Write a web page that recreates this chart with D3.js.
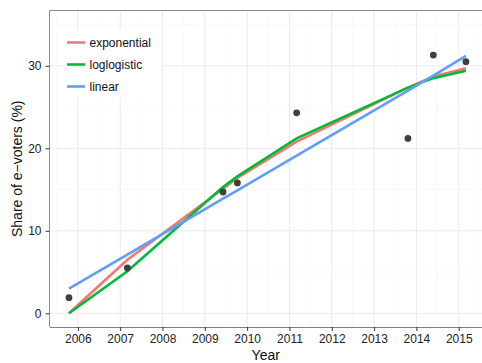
<!DOCTYPE html>
<html><head><meta charset="utf-8">
<script src="https://cdn.jsdelivr.net/npm/d3@7"></script>
<style>body{margin:0;background:#fff}svg{display:block}text{font-family:"Liberation Sans",Arial,sans-serif}</style>
</head><body><svg id="c" width="482" height="363"></svg>
<script>
const years = [2005.79, 2007.17, 2009.43, 2009.77, 2011.17, 2013.8, 2014.4, 2015.17];
const observed = [1.9, 5.5, 14.7, 15.8, 24.3, 21.2, 31.3, 30.5];
const exponential = [0, 6.5, 15.1, 16.4, 20.8, 27.35, 28.7, 29.7];
const loglogistic = [0, 5.1, 15.3, 16.6, 21.2, 27.35, 28.5, 29.4];
const linear = [3.0, 7.1, 13.9, 14.9, 19.1, 27.0, 28.8, 31.2];
const seriesNames = ["exponential", "loglogistic", "linear"];
const seriesColors = ["#F8766D", "#00BA38", "#619CFF"];
const xTicks = [2006, 2007, 2008, 2009, 2010, 2011, 2012, 2013, 2014, 2015];
const yTicks = [0, 10, 20, 30];

const svg = d3.select("#c");
const L = 49.5, R = 482, T = 10.5, B = 327;
const x = d3.scaleLinear().domain([2005.33, 2015.55]).range([L, R]);
const y = d3.scaleLinear().domain([-1.66, 36.7]).range([B, T]);

// minor grid
const xMinor = xTicks.map(v => v - 0.5).concat([2015.5]);
const yMinor = [-5, 5, 15, 25, 35];
svg.append("g").selectAll("line").data(xMinor.filter(v => x(v) > L)).join("line")
  .attr("x1", d => x(d)).attr("x2", d => x(d)).attr("y1", T).attr("y2", B)
  .attr("stroke", "#f7f7f7").attr("stroke-width", 0.8);
svg.append("g").selectAll("line").data(yMinor.filter(v => y(v) < B && y(v) > T)).join("line")
  .attr("x1", L).attr("x2", R).attr("y1", d => y(d)).attr("y2", d => y(d))
  .attr("stroke", "#f7f7f7").attr("stroke-width", 0.8);
// major grid
svg.append("g").selectAll("line").data(xTicks).join("line")
  .attr("x1", d => x(d)).attr("x2", d => x(d)).attr("y1", T).attr("y2", B)
  .attr("stroke", "#ebebeb").attr("stroke-width", 1);
svg.append("g").selectAll("line").data(yTicks).join("line")
  .attr("x1", L).attr("x2", R).attr("y1", d => y(d)).attr("y2", d => y(d))
  .attr("stroke", "#ebebeb").attr("stroke-width", 1);

// panel border (top and left)
svg.append("line").attr("x1", L).attr("x2", R).attr("y1", T).attr("y2", T).attr("stroke", "#8c8c8c").attr("stroke-width", 1);
svg.append("line").attr("x1", L).attr("x2", L).attr("y1", T).attr("y2", B).attr("stroke", "#8c8c8c").attr("stroke-width", 1);

// lines
const allSeries = [exponential, loglogistic, linear];
const line = d3.line().x((d, i) => x(years[i])).y(d => y(d));
allSeries.forEach((s, k) => {
  svg.append("path").datum(s).attr("d", line).attr("fill", "none")
    .attr("stroke", seriesColors[k]).attr("stroke-width", 2.6);
});

// points
svg.append("g").selectAll("circle").data(observed).join("circle")
  .attr("cx", (d, i) => x(years[i])).attr("cy", d => y(d)).attr("r", 3.4).attr("fill", "#3f3f3f");

// axes
const xAxis = svg.append("g").attr("transform", `translate(0,${B})`)
  .call(d3.axisBottom(x).tickValues(xTicks).tickFormat(d3.format("d")).tickSize(4).tickSizeOuter(0));
xAxis.select(".domain").attr("stroke", "#7f7f7f").attr("stroke-width", 1.2);
xAxis.selectAll(".tick line").attr("stroke", "#333");
xAxis.selectAll("text").attr("font-size", 12).attr("fill", "#222").attr("dy", "0.71em").attr("y", 7);
const yAxis = svg.append("g").attr("transform", `translate(${L},0)`)
  .call(d3.axisLeft(y).tickValues(yTicks).tickSize(4).tickSizeOuter(0));
yAxis.select(".domain").remove();
yAxis.selectAll(".tick line").attr("stroke", "#333");
yAxis.selectAll("text").attr("font-size", 12).attr("fill", "#222").attr("x", -8);

// axis titles
svg.append("text").attr("x", (L + R) / 2).attr("y", 360).attr("text-anchor", "middle")
  .attr("font-size", 14).attr("fill", "#111").text("Year");
svg.append("text").attr("transform", `translate(22,${(T + B) / 2}) rotate(-90)`).attr("text-anchor", "middle")
  .attr("font-size", 14).attr("fill", "#111").text("Share of e\u2212voters (%)");

// legend
const lg = svg.append("g");
lg.append("rect").attr("x", 62).attr("y", 30).attr("width", 100).attr("height", 68).attr("fill", "#fff");
seriesNames.forEach((n, i) => {
  const yy = 42.5 + i * 22;
  lg.append("line").attr("x1", 67).attr("x2", 85).attr("y1", yy).attr("y2", yy)
    .attr("stroke", seriesColors[i]).attr("stroke-width", 2.6);
  lg.append("text").attr("x", 89.5).attr("y", yy).attr("dy", "0.35em").attr("font-size", 12).attr("fill", "#111").text(n);
});
</script></body></html>
